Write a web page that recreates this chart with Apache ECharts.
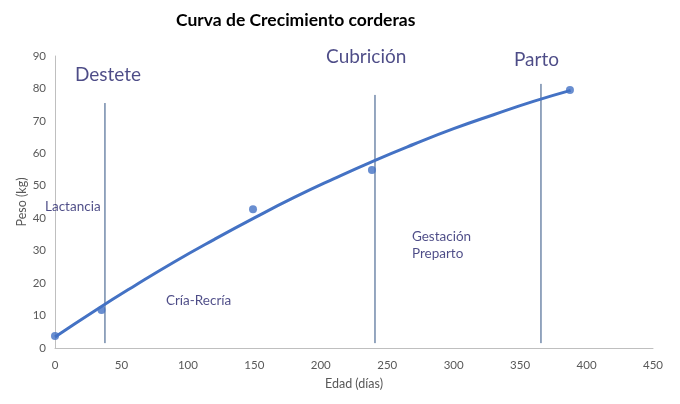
<!DOCTYPE html>
<html>
<head>
<meta charset="utf-8">
<script src="https://cdn.jsdelivr.net/npm/echarts@6/dist/echarts.min.js"></script>
<style>html,body{margin:0;padding:0;background:#fff}#c{width:680px;height:404px}</style>
</head>
<body>
<div id="c"></div>
<script>
// Observed points (edad días, peso kg)
const obsDays = [0, 35, 149, 238.5, 387.5];
const obsKg   = [3.7, 11.7, 42.8, 54.9, 79.5];
// Trendline
const trendDays = [0, 30, 60, 90, 120, 150, 180, 210, 240, 270, 300, 330, 360, 388];
const trendKg   = [3.4, 11.5, 19.2, 26.6, 33.5, 40.1, 46.4, 52.2, 57.7, 62.8, 67.6, 71.9, 76.0, 79.4];
// Phase markers (day, top kg)
const markerNames = ['Destete', 'Cubrición', 'Parto'];
const markerDays  = [37.6, 240.8, 365.7];
const markerTop   = [75.5, 78.0, 81.4];
const markerBottom = 1.5;
// Text annotations (day, kg, text)
const bigLabels = [[15, 84.2, 'Destete'], [204, 89.7, 'Cubrición'], [345.4, 88.8, 'Parto']];
const smallLabels = [[-7.5, 43.5, 'Lactancia'], [83.5, 14.5, 'Cría-Recría'], [268.6, 31.6, 'Gestación\nPreparto']];

const FONT = 'Lato, "Open Sans", sans-serif';
const TEXT_COLOR = '#211f69';
const series = [];
series.push({
  type: 'line', data: trendDays.map((d, i) => [d, trendKg[i]]), smooth: true,
  symbol: 'none', lineStyle: { color: '#4472C4', width: 3 }, z: 3, silent: true
});
series.push({
  type: 'scatter', data: obsDays.map((d, i) => [d, obsKg[i]]), symbolSize: 8,
  itemStyle: { color: '#4472C4' }, z: 4
});
markerDays.forEach((d, i) => {
  series.push({
    type: 'line', data: [[d, markerBottom], [d, markerTop[i]]], symbol: 'none',
    lineStyle: { color: '#2c4f80', width: 1 }, z: 2, silent: true
  });
});
series.push({
  type: 'scatter', clip: false, symbolSize: 0, silent: true,
  data: bigLabels.map(l => ({ value: [l[0], l[1]], name: l[2] })),
  label: { show: true, position: 'right', distance: 0, formatter: p => p.name,
           color: TEXT_COLOR, fontSize: 19, fontFamily: FONT }
});
series.push({
  type: 'scatter', clip: false, symbolSize: 0, silent: true,
  data: smallLabels.map(l => ({ value: [l[0], l[1]], name: l[2] })),
  label: { show: true, position: 'right', distance: 0, formatter: p => p.name,
           color: TEXT_COLOR, fontSize: 13.5, lineHeight: 17, fontFamily: FONT }
});

const chart = echarts.init(document.getElementById('c'), null, { renderer: 'canvas' });
chart.setOption({
  animation: false,
  backgroundColor: '#fff',
  title: { text: 'Curva de Crecimiento corderas', left: 171, top: 6,
           textStyle: { fontFamily: FONT, fontWeight: 'bold', fontSize: 17.5, color: '#000' } },
  grid: { left: 55, right: 27, top: 56, bottom: 56 },
  xAxis: {
    type: 'value', min: 0, max: 450, interval: 50,
    name: 'Edad (días)', nameLocation: 'middle', nameGap: 29, nameMoveOverlap: false,
    nameTextStyle: { color: '#595959', fontSize: 12.5, fontFamily: FONT },
    axisLine: { show: true, lineStyle: { color: '#bfbfbf' } },
    axisTick: { show: false }, splitLine: { show: false },
    axisLabel: { color: '#595959', fontSize: 11.5, fontFamily: FONT, margin: 11 }
  },
  yAxis: {
    type: 'value', min: 0, max: 90, interval: 10,
    name: 'Peso (kg)', nameLocation: 'middle', nameGap: 27, nameMoveOverlap: false,
    nameTextStyle: { color: '#595959', fontSize: 12.5, fontFamily: FONT },
    axisLine: { show: true, lineStyle: { color: '#bfbfbf' } },
    axisTick: { show: false }, splitLine: { show: false },
    axisLabel: { color: '#595959', fontSize: 11.5, fontFamily: FONT, margin: 9 }
  },
  series: series
});
</script>
</body>
</html>
